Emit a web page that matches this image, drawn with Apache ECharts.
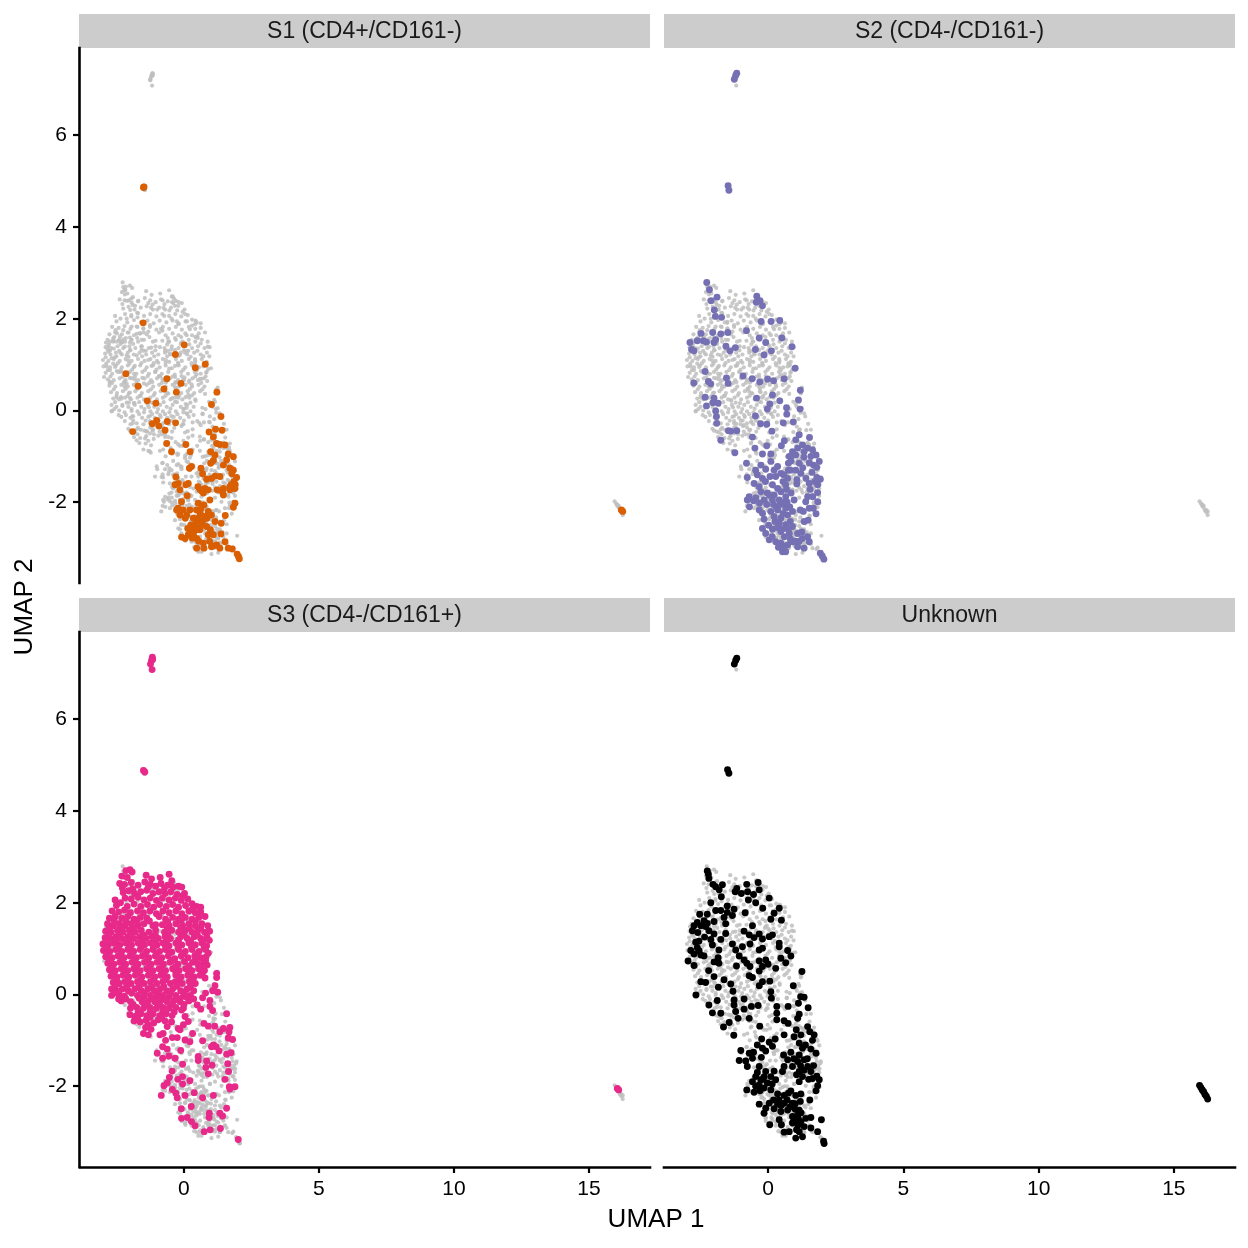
<!DOCTYPE html>
<html><head><meta charset="utf-8">
<style>html,body{margin:0;padding:0;background:#fff}#c{width:1248px;height:1248px}</style>
<script src="https://cdn.jsdelivr.net/npm/echarts@6/dist/echarts.min.js"></script>
</head><body><div id="c"></div>
<script>
const panelNames=["S1 (CD4+/CD161-)","S2 (CD4-/CD161-)","S3 (CD4-/CD161+)","Unknown"];
const panelColors=["#D95F02","#7570B3","#E7298A","#000000"];
const xTicks=[0,5,10,15];
const yTicks=[-2,0,2,4,6];
const xRange=[-3.85,17.26];
const yRange=[-3.76,7.9];
const s1Cells=[[-1.5,4.86],[-1.48,4.87],[16.2,-2.17],[16.25,-2.2],[-1.51,1.91],[0.01,1.43],[-0.32,1.22],[0.42,0.93],[0.79,1.01],[-2.15,0.8],[-0.63,0.69],[-0.11,0.59],[-1.7,0.53],[-0.74,0.47],[-0.28,0.4],[1.22,0.4],[-1.36,0.21],[-1.04,0.16],[1.02,0.13],[1.37,-0.13],[-1.01,-0.22],[-1.17,-0.29],[-0.93,-0.34],[-0.62,-0.24],[-0.31,-0.27],[-0.7,-0.43],[-1.9,-0.46],[0.93,-0.47],[1.17,-0.41],[1.41,-0.43],[1.09,-0.58],[-0.64,-0.72],[0.07,-0.74],[1.21,-0.72],[1.33,-0.74],[1.52,-0.75],[-0.46,-0.9],[0.23,-0.9],[0.99,-0.9],[1.15,-0.97],[1.64,-0.95],[1.83,-1.01],[1.58,-1.08],[1.09,-1.09],[0.99,-1.15],[1.46,-1.19],[0.28,-1.22],[0.2,-1.26],[0.63,-1.26],[1.7,-1.26],[1.83,-1.3],[0.69,-1.38],[-0.3,-1.45],[0.84,-1.5],[1.02,-1.48],[1.15,-1.43],[1.33,-1.44],[1.77,-1.38],[1.95,-1.46],[1.85,-1.55],[0.16,-1.59],[0.07,-1.62],[-0.21,-1.59],[-0.33,-1.62],[0.59,-1.72],[0.78,-1.7],[0.9,-1.73],[0.72,-1.8],[-0.15,-1.73],[1.23,-1.73],[1.46,-1.7],[1.46,-1.84],[1.7,-1.66],[1.89,-1.7],[1.7,-1.73],[0.12,-1.86],[0.96,-1.95],[-0.09,-1.99],[1.89,-2.02],[1.83,-2.11],[-0.21,-2.13],[-0.27,-2.17],[-0.03,-2.17],[0.22,-2.17],[0.53,-2.02],[0.74,-2.06],[-0.15,-2.28],[0.47,-2.17],[0.9,-2.2],[0.78,-2.31],[0.53,-2.35],[0.35,-2.35],[0.1,-2.28],[1.02,-2.28],[1.53,-2.29],[0.41,-2.49],[0.65,-2.46],[0.84,-2.53],[1.15,-2.42],[1.38,-2.46],[0.14,-2.57],[0.59,-2.6],[0.9,-2.71],[-0.09,-2.76],[0.04,-2.79],[0.16,-2.71],[0.35,-2.68],[0.47,-2.79],[1.09,-2.71],[1.37,-2.69],[0.47,-3],[0.72,-2.89],[0.74,-3],[1.02,-2.97],[1.21,-2.93],[1.33,-3],[1.52,-2.86],[1.64,-3],[1.79,-3.02],[1.97,-3.13],[2.02,-3.18],[2.05,-3.23],[0.6,-2.25],[0.7,-2.4],[0.45,-2.6],[0.25,-2.5],[0.55,-2.85],[0.95,-2.85],[1.1,-2.95],[0.05,-2.35],[0.62,-2.15],[0.3,-2.78],[0.52,-1.66],[0.66,-1.76],[1.43,-1.78],[1.75,-1.62],[1.9,-1.62],[0.85,-2.35],[0.45,-2.45],[0.62,-2.52],[0.98,-2.6],[0.28,-2.62]];
const s2Cells=[[-1.25,7.22],[-1.2,7.3],[-1.16,7.35],[-1.48,4.9],[-1.45,4.8],[-2.27,2.79],[-2.17,2.63],[-2.11,2.39],[-1.89,2.47],[-1.99,2.19],[-1.95,2.05],[-1.72,2.03],[-0.42,2.49],[-0.44,2.36],[-0.3,2.39],[-0.21,2.28],[-0.26,1.94],[0.11,1.94],[0.43,1.96],[-0.8,1.74],[-2.48,1.68],[-2.05,1.7],[-1.75,1.67],[-1.49,1.7],[-2.89,1.48],[-2.62,1.52],[-2.4,1.52],[-2.28,1.49],[-1.94,1.54],[-2,1.48],[-0.33,1.58],[-0.09,1.48],[0.51,1.58],[-1.56,1.4],[-1.21,1.37],[-1.41,1.3],[-0.47,1.33],[0.12,1.3],[-0.15,1.21],[0.88,1.39],[-2.83,1.33],[-2.74,1.3],[1,0.92],[-2.33,0.85],[-0.93,0.75],[-0.59,0.69],[-0.31,0.62],[-0.02,0.68],[0.2,0.65],[0.59,0.69],[-1.54,0.71],[-1.48,0.59],[-2.75,0.6],[-2.21,0.63],[-2.12,0.58],[1.19,0.44],[1.12,0.23],[0.16,0.34],[-0.43,0.27],[0.43,0.21],[-2.33,0.29],[-2,0.27],[-2.04,0.17],[-1.85,0.16],[-2.28,0.1],[0.06,0.14],[-0.03,0.03],[1.18,0.03],[0.68,0.06],[0.69,-0.08],[-1.94,-0.01],[-1.91,-0.13],[-1.9,-0.28],[-0.47,-0.12],[-0.28,-0.29],[-0.05,-0.3],[0.56,-0.27],[0.93,-0.25],[0.14,-0.45],[-1.47,-0.44],[-1.16,-0.44],[-1.38,-0.45],[-0.58,-0.58],[-1.75,-0.65],[1.15,-0.53],[1.53,-0.59],[1.02,-0.64],[0.6,-0.66],[0.49,-0.77],[-0.05,-0.77],[-0.49,-0.82],[-1.23,-0.92],[-0.21,-0.95],[0.1,-0.95],[0.9,-0.9],[1.09,-0.82],[1.27,-0.75],[1.46,-0.82],[1.64,-0.86],[1.77,-0.97],[0.78,-1],[1.02,-0.97],[1.33,-0.9],[-0.8,-1.15],[-0.27,-1.19],[0.1,-1.11],[0.75,-1.15],[1.15,-1.15],[1.52,-1.14],[1.68,-1.19],[1.89,-1.11],[1.8,-1.24],[-0.46,-1.3],[-0.09,-1.28],[0.22,-1.3],[0.47,-1.37],[0.75,-1.3],[1.02,-1.3],[-0.77,-1.46],[-0.4,-1.4],[-0.21,-1.48],[0.07,-1.44],[0.28,-1.44],[0.72,-1.48],[1.21,-1.37],[1.4,-1.48],[1.8,-1.46],[1.93,-1.5],[1.06,-1.51],[-0.52,-1.59],[-0.33,-1.66],[0.16,-1.62],[0.65,-1.62],[1.06,-1.6],[1.52,-1.59],[1.83,-1.62],[-0.27,-1.77],[-0.03,-1.8],[0.22,-1.84],[0.47,-1.77],[0.65,-1.88],[-0.7,-1.88],[0.96,-1.95],[1.46,-1.88],[1.83,-1.79],[-0.77,-1.95],[-0.54,-1.97],[-0.15,-1.95],[0.16,-1.95],[0.41,-1.95],[1.39,-1.99],[1.83,-1.99],[-0.69,-2.1],[-0.33,-2.17],[-0.21,-2.24],[0.1,-2.2],[0.35,-2.17],[0.65,-2.13],[0.9,-2.2],[1.19,-2.17],[1.52,-2.13],[1.67,-2.13],[1.77,-2.25],[-0.15,-2.37],[0.22,-2.31],[0.47,-2.35],[0.72,-2.28],[1.33,-2.42],[1.48,-2.39],[0.41,-2.46],[0.65,-2.49],[0.9,-2.53],[-0.21,-2.57],[0.16,-2.59],[0.47,-2.64],[0.78,-2.68],[1.09,-2.68],[-0.09,-2.68],[1.46,-2.75],[1.27,-2.79],[0.04,-2.82],[0.28,-2.86],[0.47,-2.89],[0.72,-2.93],[0.9,-2.86],[1.09,-2.97],[1.33,-3],[0.53,-3.08],[0.65,-3.08],[1.52,-2.86],[1.93,-3.11],[2,-3.17],[2.06,-3.24],[0.55,-1.55],[0.85,-1.1],[0.6,-2.0],[0.35,-1.7],[0.85,-1.8],[0.55,-2.25],[0.3,-2.1],[0.75,-2.6],[0.6,-2.75],[0.35,-2.55],[1.0,-2.85],[1.25,-2.65],[0.8,-2.1],[-0.05,-2.05],[0.05,-1.85],[0.88,-0.98],[0.82,-1.3],[0.68,-1.72],[0.58,-1.4],[0.7,-2.0],[0.45,-2.05],[0.2,-2.05],[-0.32,-2.02],[-0.45,-1.9],[0.82,-2.42],[0.55,-2.58],[0.25,-2.42],[0.02,-2.5],[0.15,-2.75],[0.38,-2.98],[0.6,-2.96],[0.82,-2.8],[1.15,-2.85],[1.28,-1.25],[1.32,-1.02],[1.58,-1.0],[1.62,-1.35],[1.55,-1.72],[1.72,-1.55],[1.65,-1.88],[1.3,-2.2],[-0.1,-1.55],[0.35,-1.22]];
const s3Cells=[[-1.17,7.35],[-1.2,7.28],[-1.24,7.2],[-1.18,7.08],[-1.16,7.3],[-1.5,4.88],[-1.45,4.85],[16.05,-2.05],[16.1,-2.08],
[-2.15,2.7],[-2.0,2.72],[-1.92,2.67],[-2.3,2.58],[-2.1,2.55],[-1.4,2.6],[-1.2,2.52],[-0.88,2.55],[-0.55,2.62],[-0.45,2.48],
[-2.38,2.42],[-2.2,2.4],[-1.95,2.44],[-1.7,2.38],[-1.45,2.45],[-1.25,2.4],[-1.05,2.36],[-0.85,2.42],[-0.6,2.38],[-0.4,2.34],[-0.2,2.36],[-0.08,2.34],
[-2.25,2.22],[-2.05,2.26],[-1.83,2.2],[-1.6,2.24],[-1.38,2.27],[-1.15,2.2],[-0.92,2.24],[-0.7,2.2],[-0.48,2.24],[-0.25,2.18],[0.02,2.2],[-2.18,2.1],[-1.95,2.08],[-1.7,2.12],[-1.48,2.06],[-1.25,2.1],[-1.02,2.05],[-0.8,2.1],[-0.55,2.06],[-0.32,2.1],[-0.1,2.05],[0.14,2.08],
[-2.55,2.06],[-2.5,1.94],[-2.35,2.0],[-2.1,1.92],[-1.85,1.97],[-1.6,1.92],[-1.35,1.96],[-1.12,1.9],[-0.9,1.96],[-0.65,1.92],[-0.42,1.96],[-0.2,1.9],[0.06,1.94],[0.3,1.98],[0.47,1.92],
[-2.66,1.82],[-2.42,1.8],[-2.2,1.84],[-1.98,1.78],[-1.72,1.82],[-1.5,1.78],[-1.26,1.82],[-1.02,1.76],[-0.78,1.82],[-0.55,1.78],[-0.3,1.82],[-0.08,1.76],[0.18,1.82],[0.42,1.78],[0.62,1.8],
[-2.76,1.66],[-2.55,1.7],[-2.3,1.66],[-2.08,1.7],[-1.85,1.64],[-1.62,1.68],[-1.38,1.66],[-0.92,1.7],[-0.68,1.64],[-0.42,1.68],[-0.2,1.64],[0.05,1.68],[0.3,1.64],[0.55,1.68],[0.78,1.7],
[-2.83,1.54],[-2.62,1.5],[-2.4,1.54],[-2.18,1.5],[-1.95,1.54],[-1.7,1.5],[-1.48,1.54],[-1.15,1.5],[-0.8,1.52],[-0.55,1.5],[-0.3,1.54],[-0.05,1.5],[0.18,1.54],[0.42,1.5],[0.66,1.54],[0.88,1.5],
[-2.9,1.38],[-2.7,1.36],[-2.46,1.4],[-2.25,1.36],[-2.02,1.4],[-1.8,1.36],[-1.58,1.4],[-1.3,1.36],[-1.05,1.4],[-0.72,1.36],[-0.45,1.4],[-0.2,1.36],[0.05,1.4],[0.3,1.36],[0.52,1.4],[0.76,1.36],[0.95,1.38],
[-2.92,1.24],[-2.72,1.22],[-2.52,1.26],[-2.3,1.22],[-2.08,1.26],[-1.86,1.22],[-1.64,1.26],[-1.4,1.22],[-1.18,1.26],[-0.95,1.22],[-0.7,1.26],[-0.5,1.22],[-0.12,1.26],[0.12,1.22],[0.38,1.26],[0.62,1.22],[0.85,1.26],[0.94,1.18],
[-3.0,1.1],[-2.8,1.08],[-2.6,1.12],[-2.38,1.08],[-2.16,1.12],[-1.94,1.08],[-1.7,1.12],[-1.46,1.08],[-1.24,1.12],[-1.0,1.08],[-0.78,1.12],[-0.55,1.06],[-0.3,1.12],[-0.08,1.08],[0.18,1.12],[0.42,1.08],[0.66,1.12],[0.84,1.06],
[-2.98,0.96],[-2.74,0.94],[-2.52,0.98],[-2.3,0.94],[-2.08,0.98],[-1.86,0.94],[-1.62,0.98],[-1.38,0.94],[-1.15,0.98],[-0.9,0.94],[-0.68,0.98],[-0.45,0.92],[-0.2,0.98],[0.05,0.94],[0.3,0.98],[0.56,0.94],[0.8,0.98],
[-2.9,0.82],[-2.66,0.8],[-2.44,0.84],[-2.22,0.8],[-2.0,0.84],[-1.76,0.8],[-1.54,0.84],[-1.3,0.8],[-1.06,0.84],[-0.82,0.8],[-0.58,0.84],[-0.34,0.78],[-0.1,0.84],[0.15,0.8],[0.4,0.84],[0.62,0.8],[0.82,0.82],
[-2.82,0.68],[-2.6,0.66],[-2.38,0.7],[-2.16,0.66],[-1.92,0.7],[-1.7,0.66],[-1.46,0.7],[-1.22,0.66],[-1.0,0.7],[-0.76,0.66],[-0.52,0.7],[-0.22,0.66],[0.32,0.7],[0.52,0.66],[0.74,0.7],[0.86,0.64],
[-2.76,0.54],[-2.54,0.52],[-2.32,0.56],[-2.08,0.52],[-1.86,0.56],[-1.62,0.52],[-1.38,0.56],[-1.14,0.52],[-0.92,0.56],[-0.68,0.52],[-0.42,0.56],[-0.18,0.52],[0.06,0.56],[0.3,0.52],[0.54,0.56],[0.76,0.52],
[-2.7,0.4],[-2.48,0.38],[-2.26,0.42],[-2.04,0.38],[-1.8,0.42],[-1.56,0.38],[-1.32,0.42],[-1.08,0.38],[-0.86,0.42],[-0.62,0.38],[-0.3,0.42],[-0.1,0.38],[0.14,0.42],[0.38,0.38],[0.6,0.42],[0.78,0.36],
[-2.62,0.26],[-2.4,0.24],[-2.18,0.28],[-1.96,0.24],[-1.72,0.28],[-1.48,0.24],[-1.24,0.28],[-1.0,0.24],[-0.78,0.28],[-0.5,0.24],[-0.32,0.28],[-0.06,0.24],[0.2,0.28],[0.42,0.24],
[-2.68,0.12],[-2.5,0.08],[-2.28,0.12],[-2.06,0.08],[-1.82,0.12],[-1.58,0.08],[-1.34,0.12],[-1.1,0.08],[-0.88,0.12],[-0.64,0.08],[-0.42,0.12],[-0.12,0.08],[0.12,0.12],[0.36,0.08],
[-2.68,-0.02],[-2.4,0.0],[-2.2,-0.04],[-1.72,-0.02],[-1.48,-0.04],[-1.24,-0.02],[-1.0,-0.04],[-0.78,-0.02],[-0.54,-0.04],[-0.3,-0.02],[-0.02,-0.04],[0.24,-0.02],[0.36,-0.1],
[-2.32,-0.14],[-1.55,-0.16],[-1.32,-0.14],[-1.08,-0.16],[-0.86,-0.14],[-0.62,-0.16],[-0.38,-0.14],[-0.14,-0.16],[0.18,-0.14],
[-1.98,-0.3],[-1.75,-0.28],[-1.5,-0.3],[-1.26,-0.28],[-1.02,-0.3],[-0.78,-0.28],[-0.55,-0.3],[-0.3,-0.28],[-0.02,-0.3],
[-2.0,-0.44],[-1.82,-0.48],[-1.6,-0.42],[-1.38,-0.46],[-1.14,-0.42],[-0.9,-0.46],[-0.66,-0.42],[-0.44,-0.46],[-1.85,-0.58],[-1.62,-0.6],[-1.4,-0.56],[-1.12,-0.62],[-0.7,-0.58],[-0.46,-0.6],[-0.62,-0.7],[-1.42,-0.72],[-1.22,-0.76],[-1.5,-0.85],[-1.32,-0.88],[-0.95,-0.55],[-1.32,-0.66],
[-0.77,-0.85],[-0.89,-0.88],[-0.68,-1.0],[-0.79,-1.14],[-0.62,-1.19],[-0.99,-1.28],[-0.56,-1.34],[-0.79,-1.39],[-0.33,-1.39],[-0.05,-1.52],[-0.12,-1.22],[-0.43,-0.94],[-0.25,-0.94],[0.04,-0.99],[0.22,-1.03],[0.32,-0.85],[-0.15,-0.77],[-0.02,-0.66],[-0.21,-0.74],[-0.09,-0.34],[0.04,-0.48],[0.16,-0.59],
[1.21,0.46],[1.21,0.37],[1.15,0.19],[1.06,0.08],[1.25,0.05],[0.8,0.03],[0.69,-0.07],[0.96,-0.13],[0.49,-0.23],[0.62,-0.32],[0.96,-0.26],[1.06,-0.35],[1.58,-0.42],[0.74,-0.63],[0.9,-0.69],[1.14,-0.69],[1.7,-0.72],[1.46,-0.74],[1.33,-0.81],[1.67,-0.81],[0.69,-1.01],[1.64,-0.95],[1.8,-0.98],[1.09,-1.1],[1.19,-1.14],[1.02,-1.14],[1.3,-1.23],[1.58,-1.3],[1.74,-1.27],[0.53,-1.35],[0.53,-1.44],[0.84,-1.45],[1.04,-1.54],[1.62,-1.51],[0.81,-1.59],[1.65,-1.68],[0.9,-1.73],[1.52,-1.85],[1.68,-2.01],[1.89,-2.01],[1.7,-2.06],[-0.44,-1.67],[-0.54,-1.81],[-0.23,-1.85],[-0.05,-1.79],[-0.05,-1.95],[0.22,-1.88],[-0.62,-1.93],[-0.74,-1.99],[-0.43,-2.07],[-0.3,-2.15],[-0.25,-2.25],[0.04,-2.2],[0.38,-2.14],[0.69,-2.25],[1.09,-2.2],[-0.84,-2.2],[0.27,-2.44],[-0.1,-2.49],[1.58,-2.48],[0.94,-2.59],[0.93,-2.68],[1.33,-2.59],[1.43,-2.65],[-0.09,-2.7],[0.12,-2.68],[0.28,-2.77],[0.41,-2.86],[0.75,-2.99],[0.97,-2.95],[1.35,-2.92],[2.01,-3.16],
[-2.58,1.6],[-2.15,1.58],[-1.73,1.58],[-1.28,1.6],[-0.6,1.58],[-0.1,1.6],[0.42,1.6],[-2.78,1.44],[-2.35,1.45],[-1.88,1.45],[-1.05,1.52],[-0.62,1.44],[-0.12,1.45],[0.2,1.44],[0.62,1.46],[-2.8,1.28],[-2.4,1.3],[-1.98,1.31],[-1.5,1.3],[-1.06,1.31],[-0.6,1.3],[0,1.31],[0.5,1.3],[-2.9,1.16],[-2.5,1.18],[-2.05,1.17],[-1.55,1.18],[-1.1,1.18],[-0.62,1.18],[-0.2,1.19],[0.25,1.17],[0.72,1.18],[-2.88,1.02],[-2.45,1.03],[-2.02,1.02],[-1.58,1.03],[-1.12,1.03],[-0.68,1.04],[-0.22,1.04],[0.28,1.03],[0.75,1.03],[-2.82,0.88],[-2.34,0.88],[-1.92,0.89],[-1.44,0.88],[-1.02,0.89],[-0.55,0.91],[-0.02,0.89],[0.48,0.88],[0.9,0.9],[-2.72,0.74],[-2.28,0.73],[-1.82,0.74],[-1.34,0.75],[-0.88,0.74],[-0.42,0.74],[0.02,0.72],[0.42,0.74],[0.8,0.74],[-2.66,0.6],[-2.22,0.6],[-1.76,0.6],[-1.28,0.6],[-0.82,0.6],[-0.32,0.6],[0.18,0.62],[0.64,0.6],[-2.6,0.46],[-2.16,0.47],[-1.72,0.47],[-1.22,0.46],[-0.76,0.47],[-0.3,0.48],[0.22,0.47],[0.68,0.46],[-2.5,0.32],[-2.08,0.32],[-1.6,0.32],[-1.12,0.33],[-0.68,0.32],[-0.18,0.32],[0.3,0.33],[-2.55,0.18],[-2.12,0.17],[-1.66,0.18],[-1.2,0.17],[-0.75,0.18],[-0.26,0.18],[0.24,0.17],[-2.58,0.03],[-1.94,0.03],[-1.46,0.03],[-0.96,0.03],[-0.5,0.04],[0.02,0.04],[-2.42,-0.1],[-1.66,-0.08],[-1.18,-0.08],[-0.7,-0.08],[-0.24,-0.08],[0.1,-0.06],[-1.88,-0.22],[-1.42,-0.22],[-0.94,-0.22],[-0.46,-0.22],[0,-0.22],[-1.7,-0.38],[-1.25,-0.37],[-0.78,-0.37],[-0.36,-0.38],[-1.72,-0.52],[-1.26,-0.5],[-0.82,-0.52],[-1.98,-0.16],[-2.15,-0.1],[0.62,1.9],[0.3,1.85],[-0.05,2.15],[-0.72,2.32],[-1.32,2.34],[-1.9,2.3],[-2.28,2.32]];
const unknownCells=[[-1.25,7.2],[-1.2,7.28],[-1.16,7.33],[-1.5,4.9],[-1.45,4.82],[15.95,-1.98],[16,-2.03],[16.05,-2.08],[16.1,-2.12],[16.15,-2.18],[16.2,-2.22],[16.25,-2.28],[-2.25,2.69],[-2.21,2.62],[-2.19,2.53],[-2.04,2.4],[-1.94,2.35],[-1.69,2.39],[-1.81,2.28],[-1.73,2.13],[-0.79,2.4],[-0.37,2.44],[-1.16,2.31],[-1.22,2.24],[-0.99,2.2],[-0.76,2.24],[-0.54,2.18],[-0.33,2.28],[-0.73,2.06],[-2.12,2],[0.04,2.1],[-0.46,2],[0.41,1.88],[-0.2,1.88],[-1.51,1.93],[-1.26,1.86],[-1.94,1.83],[-1.75,1.83],[-0.85,1.78],[-1.51,1.79],[-2.53,1.75],[-2.25,1.75],[-1.32,1.72],[0.22,1.77],[-1.63,1.68],[0.1,1.64],[0.49,1.62],[-2.62,1.57],[-2.37,1.61],[-2,1.59],[-2.49,1.5],[-2.74,1.5],[-2.31,1.48],[-1.57,1.54],[-0.58,1.5],[-2.8,1.39],[-2.19,1.39],[-2,1.32],[-0.89,1.38],[-1.57,1.33],[-0.7,1.3],[-0.33,1.32],[0.16,1.3],[0.04,1.26],[-1.75,1.2],[-0.52,1.24],[-2.12,1.2],[-0.21,1.21],[-2.56,1.16],[-2.68,1.14],[0.41,1.12],[-1.32,1.1],[-0.67,1.1],[-2.06,1.08],[-0.95,1.04],[-2.62,1.02],[-2.86,0.96],[-1.82,0.97],[0.41,1.04],[-1.2,0.97],[-0.21,1.01],[-0.33,0.97],[0.72,0.96],[-2.74,0.88],[-2.49,0.86],[-2.37,0.84],[-1.07,0.84],[0.84,0.84],[-1.85,0.8],[-2,0.71],[-2.96,0.73],[-0.89,0.75],[-0.33,0.73],[0.47,0.79],[-2.74,0.63],[-1.82,0.68],[-0.79,0.68],[0.65,0.69],[0,0.66],[-0.09,0.75],[-1.17,0.62],[-0.67,0.61],[-0.21,0.61],[0.28,0.57],[-0.33,0.51],[-2.2,0.52],[1.25,0.5],[-2,0.39],[-0.7,0.41],[-0.58,0.37],[-1.63,0.32],[-2.49,0.28],[-2.31,0.26],[-0.21,0.28],[0.06,0.29],[-0.33,0.19],[-1.38,0.23],[-1.84,0.16],[0.93,0.19],[-2.67,-0.01],[-1.3,0.07],[0.1,0.06],[0.12,-0.08],[1.2,-0.05],[1.33,-0.06],[-1.88,-0.13],[-1.26,-0.12],[-0.89,-0.1],[-2.19,-0.23],[-1.26,-0.23],[-0.62,-0.26],[-0.37,-0.24],[1.12,-0.19],[0.32,-0.26],[0.74,-0.26],[1.48,-0.29],[-2.06,-0.4],[-0.89,-0.32],[-1.2,-0.37],[0.32,-0.41],[1.15,-0.43],[-1.75,-0.41],[-1.11,-0.52],[-0.7,-0.52],[0.32,-0.55],[0.59,-0.57],[0.74,-0.63],[1.09,-0.52],[-1.44,-0.61],[-1.65,-0.71],[-0.31,-0.69],[1.04,-0.77],[1.46,-0.7],[1.54,-0.81],[-1.27,-0.89],[0.59,-0.88],[0.96,-0.92],[1.21,-0.88],[1.7,-0.88],[-0.24,-0.97],[0.26,-0.97],[1.64,-1],[1.15,-1.06],[0.04,-1.04],[-0.4,-1.1],[0.16,-1.13],[-0.21,-1.17],[-0.09,-1.23],[1.27,-1.17],[1.58,-1.19],[-1.01,-1.22],[-0.7,-1.28],[-0.54,-1.26],[0.84,-1.26],[0.57,-1.32],[1.15,-1.32],[1.77,-1.28],[-1.07,-1.44],[-0.83,-1.45],[-0.58,-1.39],[-0.25,-1.37],[0.72,-1.42],[1.09,-1.46],[1.33,-1.42],[-0.77,-1.57],[-0.33,-1.57],[0.59,-1.57],[0.9,-1.57],[1.46,-1.57],[0.22,-1.67],[-0.09,-1.68],[0.53,-1.68],[1.15,-1.68],[1.58,-1.68],[-0.46,-1.79],[0.1,-1.79],[1.27,-1.79],[1.89,-1.86],[1.64,-1.83],[-0.58,-1.9],[-0.27,-1.86],[-0.03,-1.93],[0.28,-1.86],[1.15,-1.9],[-0.33,-1.97],[-0.15,-2.04],[-0.46,-2],[-0.79,-2.08],[0.1,-2.08],[0.84,-2.1],[1.83,-1.99],[1.77,-2.1],[-0.52,-2.13],[0.35,-2.17],[1.21,-2.17],[1.02,-2.2],[0.59,-2.2],[1.54,-2.3],[-0.33,-2.39],[0.04,-2.37],[0.35,-2.39],[0.59,-2.37],[0.9,-2.37],[1.19,-2.33],[-0.09,-2.48],[0.22,-2.49],[0.47,-2.55],[0.72,-2.52],[1.15,-2.52],[-0.15,-2.59],[0.9,-2.66],[1.09,-2.63],[1.39,-2.7],[1.58,-2.68],[0.41,-2.73],[1.97,-2.73],[1.21,-2.77],[0.9,-2.8],[0.49,-2.84],[0.06,-2.84],[1.33,-2.88],[1.58,-2.91],[0.59,-3],[0.78,-2.99],[1.15,-2.99],[1.83,-2.99],[1.02,-3.13],[1.27,-3.1],[2.05,-3.2],[2.07,-3.25],[0.7,-2.3],[1.0,-2.5],[1.1,-2.85],[0.75,-2.15],[1.05,-1.75],[0.95,-1.4],[0.15,-1.95],[-0.2,-1.85],[0.4,-2.3],[-0.4,-1.7],[-0.15,-1.8],[-0.3,-2.1],[0.2,-2.3],[0.48,-2.42],[0.8,-2.45],[1.0,-2.38],[1.12,-2.72],[1.22,-2.58],[1.05,-2.95],[0.95,-2.75],[1.2,-1.55],[1.33,-1.65],[1.45,-1.4],[1.38,-1.1],[1.5,-1.85],[1.68,-1.55],[1.8,-1.78],[-2.6,1.35],[-2.35,1.25],[-2.55,0.95],[-2.25,1.55]];
const cellsByPanel=[s1Cells,s2Cells,s3Cells,unknownCells];
const allCells=[...s1Cells,...s2Cells,...s3Cells,...unknownCells];

const chart=echarts.init(document.getElementById('c'),null,{renderer:'canvas'});
const font='"Liberation Sans",Arial,sans-serif';
const panelBox=[[80,48,570,535],[664,48,571,535],[80,632,570,535],[664,632,571,535]];
const stripBox=[[79,14,571,34],[664,14,571,34],[79,598,571,34],[664,598,571,34]];
const grid=[],xAxis=[],yAxis=[],series=[],graphic=[];
panelBox.forEach((b,i)=>{
  grid.push({left:b[0],top:b[1],width:b[2],height:b[3]});
  const bottom=i>=2,left=i%2===0;
  xAxis.push({gridIndex:i,type:'value',min:xRange[0],max:xRange[1],splitLine:{show:false},
    axisLine:{show:bottom,onZero:false,lineStyle:{color:'#000',width:2.6,cap:'square'}},
    axisTick:{show:bottom,length:6,customValues:xTicks,lineStyle:{color:'#000',width:2.2}},
    axisLabel:{show:bottom,customValues:xTicks,color:'#000',fontSize:21,fontFamily:font,margin:12}});
  yAxis.push({gridIndex:i,type:'value',min:yRange[0],max:yRange[1],offset:1,splitLine:{show:false},
    axisLine:{show:left,onZero:false,lineStyle:{color:'#000',width:2.6,cap:'square'}},
    axisTick:{show:left,length:6,customValues:yTicks,lineStyle:{color:'#000',width:2.2}},
    axisLabel:{show:left,customValues:yTicks,color:'#000',fontSize:21,fontFamily:font,margin:12}});
  series.push({type:'scatter',xAxisIndex:i,yAxisIndex:i,data:allCells,symbolSize:4.2,silent:true,
    itemStyle:{color:'#BEBEBE',opacity:0.85},z:2});
  series.push({type:'scatter',xAxisIndex:i,yAxisIndex:i,data:cellsByPanel[i],symbolSize:6.9,silent:true,
    itemStyle:{color:panelColors[i],opacity:1},z:3});
  const s=stripBox[i];
  graphic.push({type:'rect',shape:{x:s[0],y:s[1],width:s[2],height:s[3]},style:{fill:'#CCCCCC'},silent:true});
  graphic.push({type:'text',x:s[0]+s[2]/2,y:s[1]+18,silent:true,style:{text:panelNames[i],fill:'#1a1a1a',font:'23px '+font,textAlign:'center',textVerticalAlign:'middle'}});
});
graphic.push({type:'text',x:656,y:1220,silent:true,style:{text:'UMAP 1',fill:'#000',font:'26px '+font,textAlign:'center',textVerticalAlign:'middle'}});
graphic.push({type:'text',x:25,y:607,rotation:Math.PI/2,silent:true,style:{text:'UMAP 2',fill:'#000',font:'26px '+font,textAlign:'center',textVerticalAlign:'middle'}});
chart.setOption({animation:false,backgroundColor:'#fff',grid,xAxis,yAxis,series,graphic});
</script></body></html>
